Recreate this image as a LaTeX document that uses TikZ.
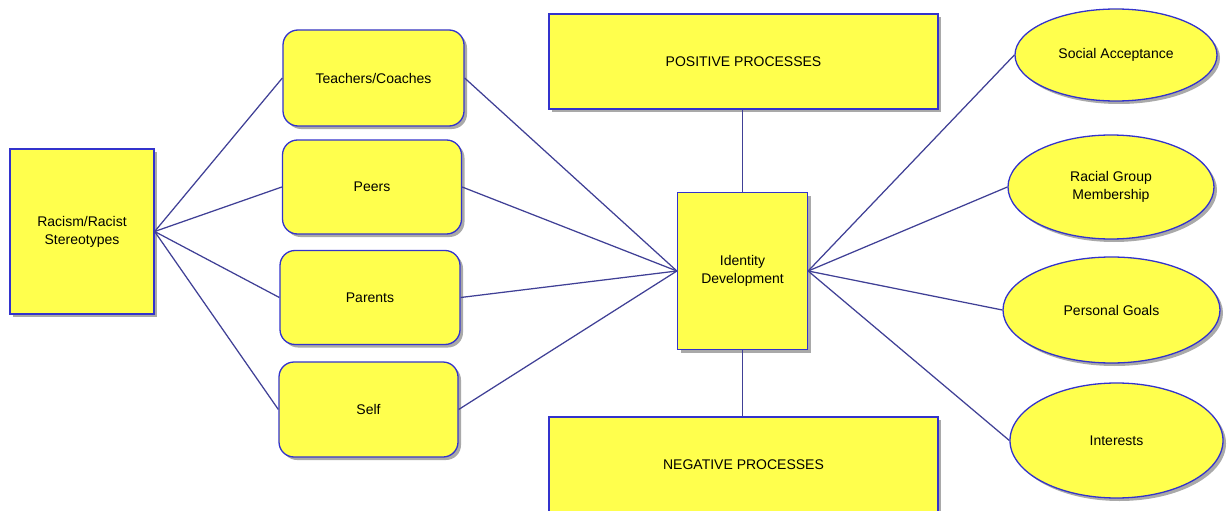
\documentclass[tikz,border=0pt]{standalone}
\usepackage{fontspec}
\setmainfont{Liberation Sans}
\usetikzlibrary{shapes.geometric,shadows}
\definecolor{boxfill}{RGB}{255,255,77}
\definecolor{boxline}{RGB}{51,51,204}
\definecolor{linkline}{RGB}{64,64,150}
\definecolor{shade}{RGB}{140,140,140}

\begin{document}
\begin{tikzpicture}[x=1pt,y=-1pt,
  base/.style={draw=boxline, line width=1.3pt, fill=boxfill, inner sep=0pt,
    align=center, font=\fontsize{14}{18}\selectfont,
    drop shadow={shadow xshift=3pt, shadow yshift=-3pt, fill=shade, opacity=0.75}},
  squarebox/.style={base, rectangle},
  roundbox/.style={base, rectangle, rounded corners=15pt},
  ovalbox/.style={base, ellipse},
  link/.style={draw=linkline, line width=1.25pt}
]
\useasboundingbox (0,0) rectangle (1232,511);

% source box
\node[squarebox, minimum width=144pt, minimum height=165pt] (racism) at (82,231.5)
  {Racism/Racist\\Stereotypes};

% agents of socialisation
\node[roundbox, minimum width=181pt, minimum height=96pt] (teachers) at (373.5,78) {Teachers/Coaches};
\node[roundbox, minimum width=179pt, minimum height=94pt] (peers) at (372,187) {Peers};
\node[roundbox, minimum width=180pt, minimum height=94pt] (parents) at (370,297.5) {Parents};
\node[roundbox, minimum width=179pt, minimum height=95pt] (self) at (368.5,409.5) {Self};

% central box and the two process boxes
\node[squarebox, minimum width=130pt, minimum height=157pt] (identity) at (742.5,271)
  {Identity\\Development};
\node[squarebox, minimum width=389pt, minimum height=95pt] (positive) at (743.5,61.5)
  {POSITIVE PROCESSES};
\node[squarebox, minimum width=389pt, minimum height=95pt] (negative) at (743.5,464.5)
  {NEGATIVE PROCESSES};

% outcomes
\node[ovalbox, minimum width=202pt, minimum height=92pt] (social) at (1116,55) {Social Acceptance};
\node[ovalbox, minimum width=206pt, minimum height=104pt] (racial) at (1111,187) {Racial Group\\Membership};
\node[ovalbox, minimum width=217pt, minimum height=106pt] (goals) at (1111.5,310) {Personal Goals};
\node[ovalbox, minimum width=213pt, minimum height=115pt] (interests) at (1116.5,440.5) {Interests};

% connectors
\foreach \n in {teachers,peers,parents,self} {
  \draw[link] (racism.east) -- (\n.west);
  \draw[link] (\n.east) -- (identity.west);
}
\draw[link] (identity.north) -- (identity.north |- positive.south);
\draw[link] (identity.south) -- (identity.south |- negative.north);
\foreach \n in {social,racial,goals,interests} {
  \draw[link] (identity.east) -- (\n.west);
}
\end{tikzpicture}
\end{document}
